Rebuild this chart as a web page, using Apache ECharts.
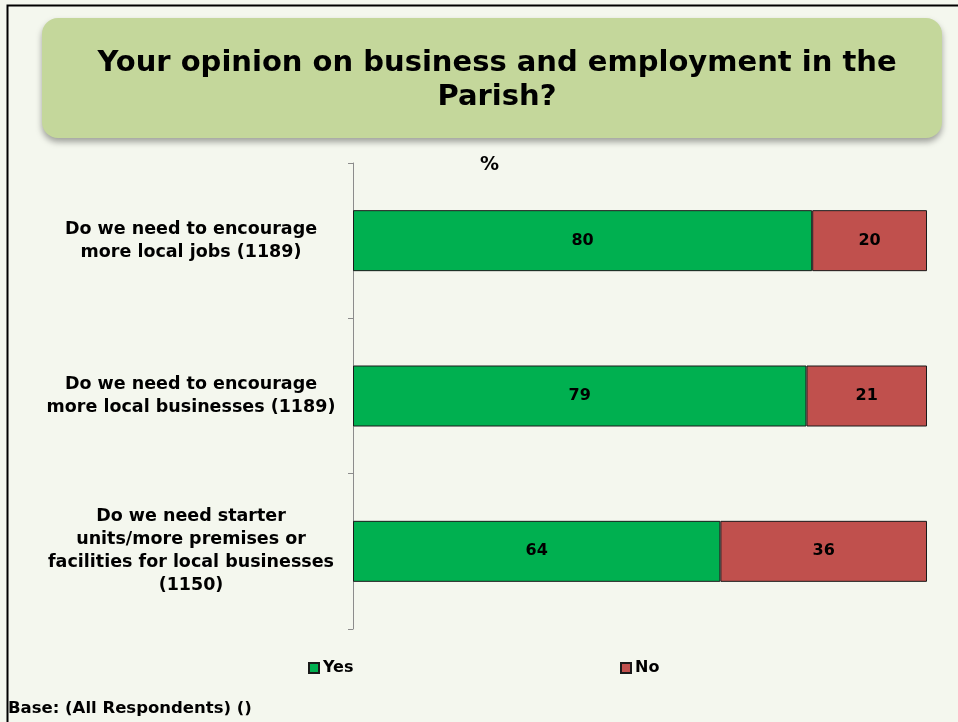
<!DOCTYPE html>
<html>
<head>
<meta charset="utf-8">
<script src="https://cdn.jsdelivr.net/npm/echarts@6/dist/echarts.min.js"></script>
<style>
  html, body { margin: 0; padding: 0; background: #F4F7EE; }
  #chart { width: 958px; height: 722px; }
</style>
</head>
<body>
<div id="chart"></div>
<script>
// Survey questions (respondent base in brackets)
const categories = [
  'Do we need to encourage\nmore local jobs (1189)',
  'Do we need to encourage\nmore local businesses (1189)',
  'Do we need starter\nunits/more premises or\nfacilities for local businesses\n(1150)'
];
const yesValues = [80, 79, 64];
const noValues = [20, 21, 36];
const seriesNames = ['Yes', 'No'];

const FONT = '"DejaVu Sans", Verdana, sans-serif';

const chart = echarts.init(document.getElementById('chart'), null, { renderer: 'canvas' });

const labelStyle = {
  show: true,
  position: 'inside',
  color: '#000',
  fontFamily: FONT,
  fontWeight: 'bold',
  fontSize: 16
};

const legendText = {
  fontFamily: FONT, fontWeight: 'bold', fontSize: 16, color: '#000',
  padding: [0, 0, 0, -1]
};

chart.setOption({
  backgroundColor: '#F4F7EE',
  animation: false,
  graphic: [
    {
      type: 'rect',
      left: 5, top: 3,
      shape: { width: 970, height: 740 },
      style: { fill: 'none', stroke: '#000', lineWidth: 2 },
      z: -10
    },
    {
      type: 'rect',
      left: 42, top: 18,
      shape: { width: 900, height: 120, r: 16 },
      style: {
        fill: '#C4D79B',
        shadowBlur: 6,
        shadowOffsetY: 4,
        shadowOffsetX: 0,
        shadowColor: 'rgba(0,0,0,0.35)'
      },
      z: -5
    },
    {
      type: 'text',
      left: 480, top: 156,
      style: { text: '%', font: 'bold 19px ' + FONT, fill: '#000' }
    },
    {
      type: 'text',
      left: 8, top: 700,
      style: { text: 'Base: (All Respondents) ()', font: 'bold 16.5px ' + FONT, fill: '#000' }
    }
  ],
  title: {
    text: 'Your opinion on business and employment in the\nParish?',
    left: 492,
    top: 41,
    textAlign: 'center',
    textStyle: {
      fontFamily: FONT,
      fontWeight: 'bold',
      fontSize: 29,
      lineHeight: 34,
      color: '#000'
    }
  },
  legend: [
    {
      data: [seriesNames[0]],
      left: 308, top: 660, padding: 0,
      itemWidth: 10, itemHeight: 10, itemGap: 5,
      icon: 'rect',
      textStyle: legendText
    },
    {
      data: [seriesNames[1]],
      left: 620, top: 660, padding: 0,
      itemWidth: 10, itemHeight: 10, itemGap: 5,
      icon: 'rect',
      textStyle: legendText
    }
  ],
  grid: { left: 353, right: 31, top: 163, bottom: 93, containLabel: false },
  xAxis: {
    type: 'value',
    min: 0, max: 100,
    show: false
  },
  yAxis: {
    type: 'category',
    data: categories,
    inverse: true,
    boundaryGap: true,
    axisLine: { show: true, lineStyle: { color: '#8C8C8C', width: 1 } },
    axisTick: { show: true, length: 5, lineStyle: { color: '#8C8C8C' } },
    axisLabel: {
      align: 'center',
      margin: 162,
      color: '#000',
      fontFamily: FONT,
      fontWeight: 'bold',
      fontSize: 17.5,
      lineHeight: 23
    },
    splitLine: { show: false }
  },
  series: [
    {
      name: seriesNames[0],
      type: 'bar',
      stack: 'total',
      data: yesValues,
      barWidth: 61,
      itemStyle: { color: '#00B050', borderColor: '#1a1a1a', borderWidth: 1 },
      label: labelStyle
    },
    {
      name: seriesNames[1],
      type: 'bar',
      stack: 'total',
      data: noValues,
      barWidth: 61,
      itemStyle: { color: '#C0504D', borderColor: '#1a1a1a', borderWidth: 1 },
      label: labelStyle
    }
  ]
});
</script>
</body>
</html>
